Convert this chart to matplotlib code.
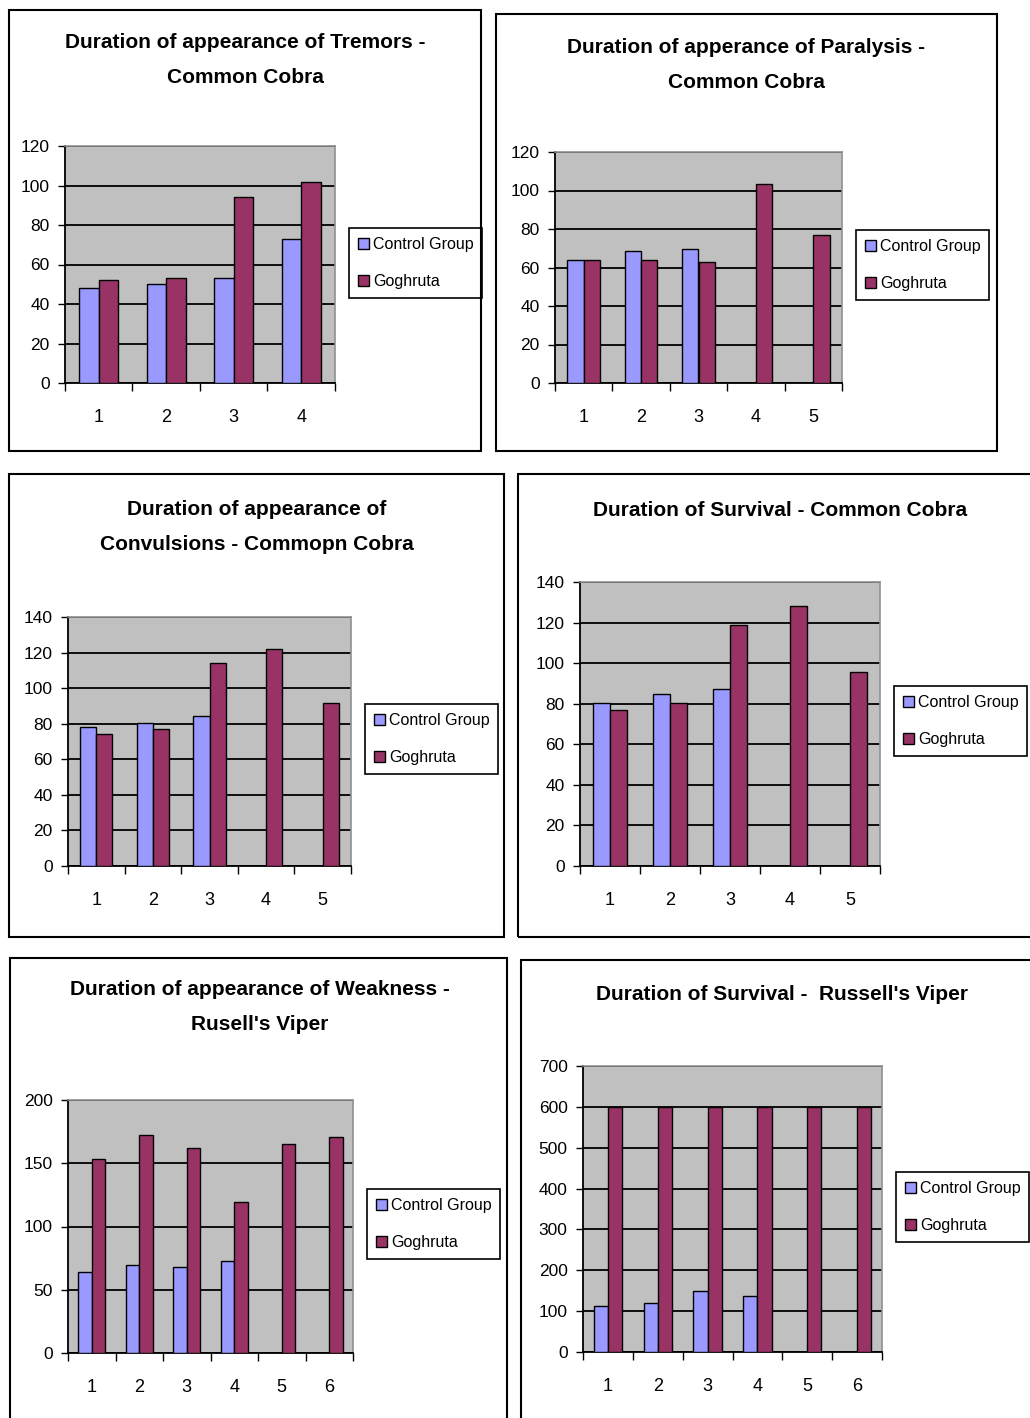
import matplotlib as mpl
mpl.use('Agg')
import matplotlib.pyplot as plt
from matplotlib.patches import Rectangle, Patch
import numpy as np

# values read per study (None = no control bar for that animal)
tremor_ctrl = [48, 50, 53, 73]
tremor_gog = [52, 53, 94, 102]

paralysis_ctrl = [64, 68.5, 69.5, None, None]
paralysis_gog = [64, 64, 63, 103.5, 77]

convulsion_ctrl = [78, 80.5, 84.5, None, None]
convulsion_gog = [74, 77, 114, 122, 91.5]

survival_cobra_ctrl = [80.5, 85, 87.5, None, None]
survival_cobra_gog = [77, 80.5, 119, 128, 95.5]

weakness_ctrl = [64, 69.5, 68, 72.5, None, None]
weakness_gog = [153, 172, 162, 119, 165, 170.5]

survival_viper_ctrl = [112, 120, 150, 137, None, None]
survival_viper_gog = [600, 600, 600, 600, 600, 600]

series_names = ["Control Group", "Goghruta"]

W, H = 1030, 1418
CTRL = "#9999FF"
GOG = "#993366"
BG = "#C0C0C0"
FAM = ["Liberation Sans Narrow", "Liberation Sans", "DejaVu Sans"]
plt.rcParams['font.family'] = FAM


def fx(px):
    return px / W


def fy(py):
    return 1 - py / H


def box(x0, y0, x1, y1):
    # pixel box -> [left, bottom, width, height] in figure fraction
    return [fx(x0), fy(y1), fx(x1) - fx(x0), fy(y0) - fy(y1)]


fig = plt.figure(figsize=(W / 100, H / 100), dpi=100)

charts = [
    dict(frame=(9, 10, 481, 451), axes=(65, 146, 335, 383),
         title="Duration of appearance of Tremors -\nCommon Cobra", tpos=(245, 60),
         ctrl=tremor_ctrl, gog=tremor_gog, ymax=120, ystep=20, leg=(349, 228)),
    dict(frame=(496, 14, 997, 451), axes=(555, 152, 842, 383),
         title="Duration of apperance of Paralysis -\nCommon Cobra", tpos=(746, 65),
         ctrl=paralysis_ctrl, gog=paralysis_gog, ymax=120, ystep=20, leg=(856, 230)),
    dict(frame=(9, 474, 504, 937), axes=(68, 617, 351, 866),
         title="Duration of appearance of\nConvulsions - Commopn Cobra", tpos=(257, 527),
         ctrl=convulsion_ctrl, gog=convulsion_gog, ymax=140, ystep=20, leg=(365, 704)),
    dict(frame=(518, 474, 1040, 937), axes=(580, 582, 880, 866),
         title="Duration of Survival - Common Cobra", tpos=(780, 510),
         ctrl=survival_cobra_ctrl, gog=survival_cobra_gog, ymax=140, ystep=20, leg=(894, 686)),
    dict(frame=(10, 958, 507, 1430), axes=(68, 1100, 353, 1353),
         title="Duration of appearance of Weakness -\nRusell's Viper", tpos=(260, 1007),
         ctrl=weakness_ctrl, gog=weakness_gog, ymax=200, ystep=50, leg=(367, 1189)),
    dict(frame=(521, 960, 1040, 1430), axes=(583, 1066, 882, 1352),
         title="Duration of Survival -  Russell's Viper", tpos=(782, 995),
         ctrl=survival_viper_ctrl, gog=survival_viper_gog, ymax=700, ystep=100, leg=(896, 1172)),
]

for c in charts:
    x0, y0, x1, y1 = c['frame']
    fig.patches.append(Rectangle((fx(x0), fy(y1)), fx(x1) - fx(x0), fy(y0) - fy(y1),
                                 transform=fig.transFigure, fill=False,
                                 edgecolor='black', linewidth=1.5))
    fig.text(fx(c['tpos'][0]), fy(c['tpos'][1]), c['title'], ha='center', va='center',
             fontsize=15, fontweight='bold', linespacing=2.1)

    ax = fig.add_axes(box(*c['axes']))
    ax.set_facecolor(BG)
    n = len(c['gog'])
    x = np.arange(1, n + 1)
    w = 1 / 3.5
    cx = [i for i, v in zip(x, c['ctrl']) if v is not None]
    cv = [v for v in c['ctrl'] if v is not None]
    ax.bar(np.array(cx) - w / 2, cv, width=w, color=CTRL, edgecolor='black', linewidth=1, zorder=3)
    ax.bar(x + w / 2, c['gog'], width=w, color=GOG, edgecolor='black', linewidth=1, zorder=3)

    ax.set_xlim(0.5, n + 0.5)
    ax.set_ylim(0, c['ymax'])
    ax.set_yticks(np.arange(0, c['ymax'] + 1, c['ystep']))
    ax.set_xticks(np.arange(0.5, n + 1, 1))
    ax.set_xticklabels([])
    ax.set_xticks(x, minor=True)
    ax.set_xticklabels([str(i) for i in x], minor=True)
    ax.tick_params(axis='x', which='major', direction='out', length=6, width=1)
    ax.tick_params(axis='x', which='minor', length=0, pad=19, labelsize=13)
    ax.tick_params(axis='y', direction='out', length=5, width=1, pad=6, labelsize=12.5)
    ax.yaxis.grid(True, color='black', linewidth=1.3)
    ax.set_axisbelow(True)
    for s in ('top', 'right'):
        ax.spines[s].set_color('#909090')
        ax.spines[s].set_linewidth(1.2)
    for s in ('left', 'bottom'):
        ax.spines[s].set_linewidth(1.3)

    handles = [Patch(facecolor=CTRL, edgecolor='black', linewidth=1),
               Patch(facecolor=GOG, edgecolor='black', linewidth=1)]
    lx, ly = c['leg']
    leg = ax.legend(handles, series_names, loc='upper left',
                    bbox_to_anchor=(fx(lx), fy(ly)), bbox_transform=fig.transFigure,
                    fontsize=11.5, frameon=True, fancybox=False, framealpha=1,
                    edgecolor='black', handlelength=0.7, handleheight=0.7,
                    handletextpad=0.25, labelspacing=1.4, borderpad=0.55,
                    borderaxespad=0)
    leg.get_frame().set_linewidth(1.2)

fig.savefig('out.png', dpi=100)
